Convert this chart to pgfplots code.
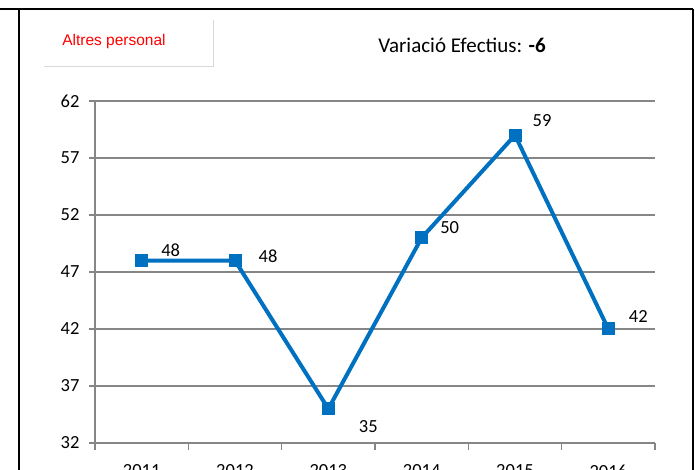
\documentclass[border=0pt]{standalone}
\usepackage{pgfplots}
\pgfplotsset{compat=1.18}
\usepackage{fontspec}
\setmainfont{Carlito}
\newfontfamily\arialfont{Liberation Sans}
\definecolor{xlblue}{HTML}{0070C0}
\definecolor{gridgray}{HTML}{868686}
\definecolor{boxgray}{HTML}{D9D9D9}
\begin{document}
\begin{tikzpicture}[x=1pt,y=1pt]
% frame
\draw[black, line width=2pt] (0,461) -- (692.5,461);
\draw[black, line width=2pt] (18.5,461) -- (18.5,-5);
\draw[black, line width=2pt] (692.5,461) -- (692.5,-5);
% title box
\draw[boxgray, line width=0.8pt] (44,404) -- (213,404) -- (213,450);
\node[text=red, font=\arialfont\fontsize{15.5}{17}\selectfont] at (114,428) {Altres personal};
\node[font=\fontsize{21}{24}\selectfont] at (462,425) {Variació Efectius: \textbf{-6}};
\begin{axis}[
  at={(95pt,27pt)}, anchor=south west,
  width=560pt, height=342pt, scale only axis,
  xmin=0.5, xmax=6.5, ymin=32, ymax=62,
  axis x line=bottom, axis y line=left,
  axis line style={gridgray, line width=1.5pt, -},
  ytick={32,37,...,62},
  ymajorgrids, grid style={gridgray, line width=1.5pt},
  xtick={1,2,3,4,5,6},
  xticklabels={2011,2012,2013,2014,2015,2016},
  major x tick style={draw=none},
  minor xtick={0.5,1.5,2.5,3.5,4.5,5.5,6.5},
  tick style={gridgray, line width=1.5pt},
  tick align=outside,
  major tick length=6pt, minor tick length=7pt,
  ticklabel style={font=\fontsize{18.5}{20}\selectfont, text=black},
  /pgf/number format/assume math mode=true,
  yticklabel style={xshift=-6pt},
  xticklabel style={yshift=-12pt},
  clip=false,
]
\addplot[xlblue, line width=4pt, mark=square*, mark size=6pt,
  mark options={solid, fill=xlblue, line width=0pt},
  visualization depends on={\thisrow{dx} \as \dx},
  visualization depends on={\thisrow{dy} \as \dy},
  nodes near coords,
  every node near coord/.append style={anchor=center, xshift=\dx pt, yshift=\dy pt, text=black, font=\fontsize{18.5}{20}\selectfont},
] table [x=x, y=y] {
x y dx dy
1 48 29 10
2 48 33 4
3 35 40 -18
4 50 28 10
5 59 27 15
6 42 30 12
};
\end{axis}
\pgfresetboundingbox
\path[use as bounding box] (0,0) rectangle (695,470);
\end{tikzpicture}
\end{document}
